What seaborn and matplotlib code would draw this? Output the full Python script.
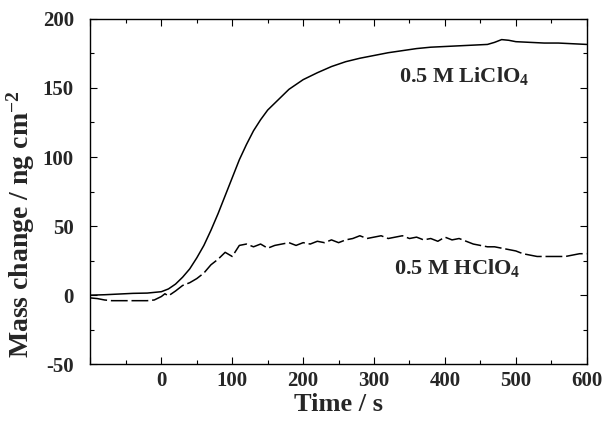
import seaborn as sns
import pandas as pd
import matplotlib.pyplot as plt

# LiClO4 (solid)
time_li = [-100, -80, -60, -40, -20, 0, 10, 20, 30, 40, 50, 60, 70, 80, 90,
           100, 110, 120, 130, 140, 150, 160, 170, 180, 190, 200, 220, 240,
           260, 280, 300, 320, 340, 360, 380, 400, 420, 440, 460, 470, 480,
           490, 500, 520, 540, 560, 580, 600]
mass_li = [0, 0.3, 0.8, 1.3, 1.5, 2.5, 4.5, 8, 13, 19, 27, 36, 47, 59, 72,
           85, 98, 109, 119, 127, 134, 139, 144, 149, 152.5, 156, 161, 165.5,
           169, 171.5, 173.5, 175.5, 177, 178.5, 179.5, 180, 180.5, 181, 181.5,
           183, 185, 184.5, 183.5, 183, 182.5, 182.5, 182, 181.5]

# HClO4 (dashed)
time_h = [-100, -90, -80, -70, -60, -50, -40, -30, -20, -10, 0, 5, 10, 20, 30,
          40, 50, 60, 70, 80, 90, 100, 110, 120, 130, 140, 150, 160, 170, 180,
          190, 200, 210, 220, 230, 240, 250, 260, 270, 280, 290, 300, 310, 320,
          330, 340, 350, 360, 370, 380, 390, 400, 410, 420, 430, 440, 450, 460,
          470, 480, 490, 500, 510, 520, 530, 540, 550, 560, 570, 580, 590, 600]
mass_h = [-2, -2.5, -3.5, -4, -4, -4, -4, -4, -4, -3.5, -1, 1, -0.5, 3, 7,
          9, 12, 16, 22, 26, 31, 28, 36, 37, 35, 37, 34, 36, 37, 38,
          36, 38, 37, 39, 38, 40, 38, 40, 41, 43, 41, 42, 43, 41,
          42, 43, 41, 42, 40, 41, 39, 42, 40, 41, 39, 37, 36, 35,
          35, 34, 33, 32, 30, 29, 28, 28, 28, 28, 28, 29, 30, 30]

x_ticks = [-100, 0, 100, 200, 300, 400, 500, 600]
x_tick_labels = ["", "0", "100", "200", "300", "400", "500", "600"]
y_ticks = [-50, 0, 50, 100, 150, 200]

sns.set_style("ticks")
plt.rcParams["font.family"] = ["Liberation Serif", "DejaVu Serif"]
plt.rcParams["font.weight"] = "bold"
plt.rcParams["axes.unicode_minus"] = False
plt.rcParams["mathtext.fontset"] = "custom"
plt.rcParams["mathtext.rm"] = "Liberation Serif:bold"
plt.rcParams["mathtext.bf"] = "Liberation Serif:bold"
plt.rcParams["mathtext.it"] = "Liberation Serif:bold"

li_df = pd.DataFrame({"Time": time_li, "Mass": mass_li})
h_df = pd.DataFrame({"Time": time_h, "Mass": mass_h})

fig = plt.figure(figsize=(6.03, 4.29), dpi=100)
ax = fig.add_axes([0.150, 0.151, 0.823, 0.805])

sns.lineplot(data=li_df, x="Time", y="Mass", color="black", linewidth=1.1, ax=ax)
sns.lineplot(data=h_df, x="Time", y="Mass", color="black", linewidth=1.1,
             dashes=False, ax=ax)
ax.lines[-1].set_dashes((11, 2.5))

ax.set_xlim(-100, 600)
ax.set_ylim(-50, 200)
ax.set_xticks(x_ticks)
ax.set_xticklabels(x_tick_labels)
ax.set_yticks(y_ticks)
ax.set_xticks(range(-100, 601, 50), minor=True)
ax.set_yticks(range(-50, 201, 25), minor=True)
ax.tick_params(which="both", direction="in", top=True, right=True,
               labelsize=15, width=0.8, color="black")
ax.tick_params(axis="x", pad=5)
ax.tick_params(axis="y", pad=12)
ax.tick_params(which="major", length=5)
ax.tick_params(which="minor", length=3)
for lbl in ax.get_xticklabels() + ax.get_yticklabels():
    lbl.set_fontweight("bold")
for s in ax.spines.values():
    s.set_color("black")
    s.set_linewidth(1.0)

ax.set_xlabel("Time / s", fontsize=19, fontweight="bold", labelpad=1)
ax.set_ylabel("Mass change / ng cm$^{-2}$", fontsize=20, fontweight="bold")
ax.yaxis.set_label_coords(-0.108, 0.405)

ax.text(335, 159, "0.5 M LiClO$_4$", fontsize=16, fontweight="bold", va="center")
ax.text(328, 20, "0.5 M HClO$_4$", fontsize=16, fontweight="bold", va="center")

fig.savefig("out.png", dpi=100)
